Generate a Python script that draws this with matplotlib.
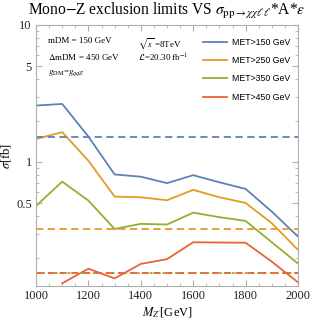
import numpy as np
import matplotlib
matplotlib.use("Agg")
from matplotlib import pyplot as plt
from matplotlib.ticker import FixedLocator, MultipleLocator, NullFormatter

plt.rcParams['font.family'] = ['Liberation Serif', 'DejaVu Serif']
plt.rcParams['mathtext.fontset'] = 'stix'

# data
mz = [1000, 1100, 1200, 1300, 1400, 1500, 1600, 1700, 1800, 1900, 2000]
met150 = [2.58, 2.65, 1.53, 0.81, 0.78, 0.70, 0.80, 0.71, 0.635, 0.434, 0.285]
met250 = [1.47, 1.65, 1.02, 0.558, 0.552, 0.525, 0.625, 0.552, 0.502, 0.357, 0.228]
met350 = [0.477, 0.718, 0.522, 0.324, 0.353, 0.349, 0.426, 0.395, 0.371, 0.259, 0.181]
met450 = [np.nan, 0.130, 0.166, 0.141, 0.180, 0.195, 0.259, 0.258, 0.257, 0.187, 0.132]
limits = [1.53, 0.326, 0.154, 0.154]
labels = ["MET>150 GeV", "MET>250 GeV", "MET>350 GeV", "MET>450 GeV"]
colors = ["#5E81B5", "#E19C24", "#8FB032", "#EB6235"]

fig = plt.figure(figsize=(3.11, 3.20), dpi=100)
ax = fig.add_axes([0.1158, 0.106, 0.8424, 0.816])

series = [met150, met250, met350, met450]
for ys, lab, c in zip(series, labels, colors):
    ax.plot(mz, ys, color=c, lw=1.3, label=lab)
for i, (lim, c) in enumerate(zip(limits, colors)):
    ax.axhline(lim, color=c, lw=1.3, ls=(0, (4, 2.5)) if i != 2 else (0, (1.5, 2)))

ax.set_yscale('log')
ax.set_xlim(1000, 2000)
ax.set_ylim(0.124, 10)

ax.yaxis.set_major_locator(FixedLocator([0.5, 1, 5, 10]))
ax.set_yticklabels(['0.5', '1', '5', '10'])
ax.yaxis.set_minor_locator(FixedLocator([0.2, 0.3, 0.4, 0.6, 0.7, 0.8, 0.9, 2, 3, 4, 6, 7, 8, 9]))
ax.yaxis.set_minor_formatter(NullFormatter())
ax.xaxis.set_major_locator(MultipleLocator(200))
ax.xaxis.set_minor_locator(MultipleLocator(50))

for s in ax.spines.values():
    s.set_color('#b0b0b0')
ax.tick_params(which='both', direction='in', top=True, right=True, color='#b0b0b0',
               labelsize=9, labelcolor='#222222', pad=3)
ax.tick_params(which='major', length=4)
ax.tick_params(which='minor', length=2)

ax.set_xlabel(r"$M_{Z'}\!$[GeV]", fontsize=9, labelpad=2)
ax.set_ylabel(r"$\sigma$[fb]", fontsize=9, labelpad=2)
ax.set_title(r"Mono$-$Z exclusion limits VS $\sigma_{\mathrm{pp}\rightarrow\chi\chi\ell\ell}$*A*$\epsilon$",
             fontsize=11.2, pad=7.5)

ax.text(0.045, 0.955, "mDM = 150 GeV", transform=ax.transAxes, fontsize=6.5, va='top')
ax.text(0.045, 0.895, r"$\Delta$mDM = 450 GeV", transform=ax.transAxes, fontsize=6.5, va='top')
ax.text(0.045, 0.835, r"$g_{\mathrm{DM}}$=$g_{qqZ'}$", transform=ax.transAxes, fontsize=6.5, va='top')
ax.text(0.39, 0.955, r"$\sqrt{s}$ =8TeV", transform=ax.transAxes, fontsize=6.5, va='top')
ax.text(0.39, 0.895, r"$\mathcal{L}$=20.30 fb$^{-1}$", transform=ax.transAxes, fontsize=6.5, va='top')

leg = ax.legend(loc='upper right', bbox_to_anchor=(1.0, 0.98), frameon=False,
                prop={'family': 'Liberation Sans', 'size': 6.3}, handlelength=2.8,
                labelspacing=1.05, handletextpad=0.5)

fig.savefig('out.png', dpi=100)
